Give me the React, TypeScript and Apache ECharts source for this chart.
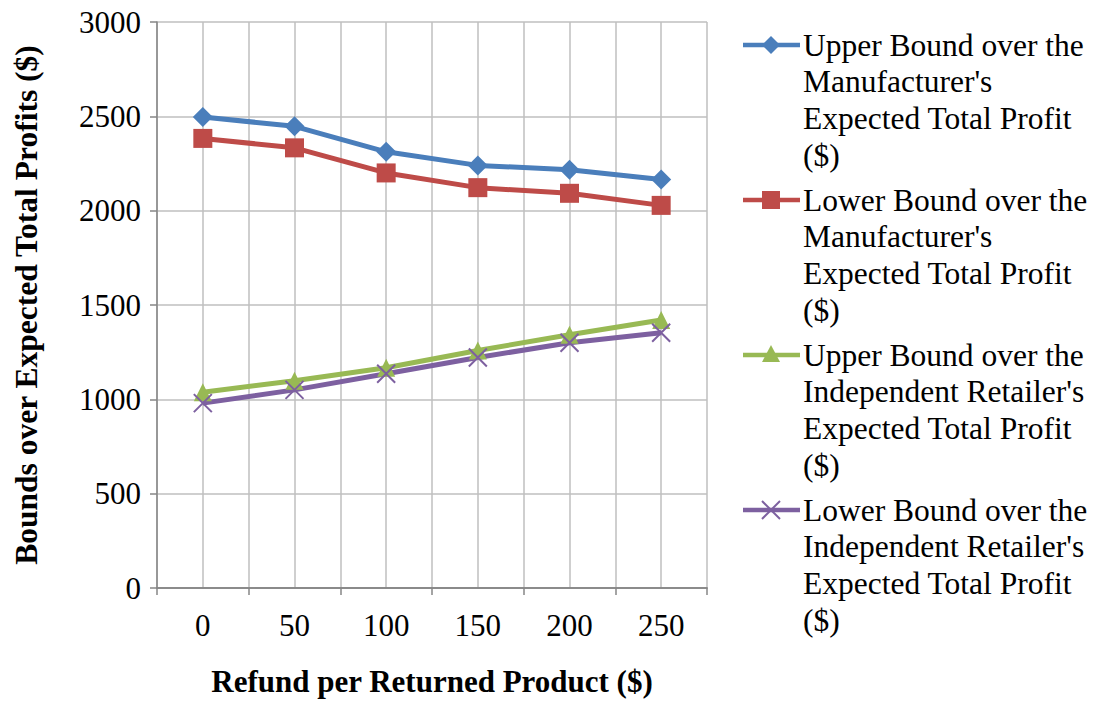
import React, { useEffect, useRef } from "react";
import * as echarts from "echarts";

const refunds = [0, 50, 100, 150, 200, 250];
const upperManufacturer = [2497, 2447, 2312, 2240, 2217, 2165];
const lowerManufacturer = [2383, 2333, 2200, 2122, 2092, 2028];
const upperRetailer = [1038, 1099, 1167, 1259, 1342, 1420];
const lowerRetailer = [980, 1050, 1136, 1222, 1300, 1353];
const seriesNames = [
  "Upper Bound over the Manufacturer's Expected Total Profit ($)",
  "Lower Bound over the Manufacturer's Expected Total Profit ($)",
  "Upper Bound over the Independent Retailer's Expected Total Profit ($)",
  "Lower Bound over the Independent Retailer's Expected Total Profit ($)",
];
const legendLines = [
  ["Upper Bound over the", "Manufacturer's", "Expected Total Profit", "($)"],
  ["Lower Bound over the", "Manufacturer's", "Expected Total Profit", "($)"],
  ["Upper Bound over the", "Independent Retailer's", "Expected Total Profit", "($)"],
  ["Lower Bound over the", "Independent Retailer's", "Expected Total Profit", "($)"],
];
const colors = ["#4a7ebb", "#be4b48", "#98b954", "#7d60a0"];

const FONT = "Liberation Serif";
const FS = 31;

export default function App() {
  const ref = useRef<HTMLDivElement>(null);
  useEffect(() => {
    const chart = echarts.init(ref.current!, null, { renderer: "svg" });
    const dataSets = [upperManufacturer, lowerManufacturer, upperRetailer, lowerRetailer];
    const symbols = ["diamond", "rect", "triangle", "path://M0,0L10,10M10,0L0,10"];
    const sizes = [20, 19, 18, 18];

    const legendGraphics: any[] = [];
    const legendTop = [45, 200, 355, 510];
    legendLines.forEach((lines, i) => {
      const cy = legendTop[i];
      const c = colors[i];
      legendGraphics.push({
        type: "line",
        shape: { x1: 743, y1: cy, x2: 800, y2: cy },
        style: { stroke: c, lineWidth: 4.5 },
      });
      const mx = 771;
      if (i === 0) {
        legendGraphics.push({
          type: "polygon",
          shape: { points: [[mx, cy - 9], [mx + 9, cy], [mx, cy + 9], [mx - 9, cy]] },
          style: { fill: c },
        });
      } else if (i === 1) {
        legendGraphics.push({
          type: "rect",
          shape: { x: mx - 9, y: cy - 9, width: 18, height: 18 },
          style: { fill: c },
        });
      } else if (i === 2) {
        legendGraphics.push({
          type: "polygon",
          shape: { points: [[mx, cy - 10], [mx + 9, cy + 7], [mx - 9, cy + 7]] },
          style: { fill: c },
        });
      } else {
        legendGraphics.push({
          type: "line",
          shape: { x1: mx - 9, y1: cy - 9, x2: mx + 9, y2: cy + 9 },
          style: { stroke: c, lineWidth: 2 },
        });
        legendGraphics.push({
          type: "line",
          shape: { x1: mx + 9, y1: cy - 9, x2: mx - 9, y2: cy + 9 },
          style: { stroke: c, lineWidth: 2 },
        });
      }
      lines.forEach((t, k) => {
        legendGraphics.push({
          type: "text",
          x: 803,
          y: cy + k * 36.8,
          style: {
            text: t,
            fill: "#000",
            font: `31.5px "${FONT}"`,
            verticalAlign: "middle",
            align: "left",
          },
        });
      });
    });

    chart.setOption({
      animation: false,
      backgroundColor: "#fff",
      grid: { left: 157, right: 392, top: 22, bottom: 105, containLabel: false },
      xAxis: [
        {
          type: "value",
          min: -25,
          max: 275,
          interval: 25,
          name: "Refund per Returned Product ($)",
          nameLocation: "middle",
          nameGap: 78,
          nameTextStyle: { fontFamily: FONT, fontSize: FS, fontWeight: "bold", color: "#000" },
          axisLine: { show: true, lineStyle: { color: "#868686", width: 1.5 } },
          axisTick: { show: false },
          axisLabel: {
            fontFamily: FONT,
            fontSize: FS,
            color: "#000",
            margin: 22,
            formatter: (v: number) => (refunds.indexOf(v) >= 0 ? String(v) : ""),
          },
          splitLine: { show: true, lineStyle: { color: "#bfbfbf", width: 1.5 } },
        },
        {
          type: "value",
          min: -25,
          max: 275,
          interval: 50,
          position: "bottom",
          axisLine: { show: true, lineStyle: { color: "#868686", width: 1.5 } },
          axisTick: { show: true, inside: false, length: 7, lineStyle: { color: "#868686", width: 1.5 } },
          axisLabel: { show: false },
          splitLine: { show: false },
        },
      ],
      yAxis: {
        type: "value",
        min: 0,
        max: 3000,
        interval: 500,
        name: "Bounds over Expected Total Profits ($)",
        nameLocation: "middle",
        nameGap: 115,
        nameTextStyle: { fontFamily: FONT, fontSize: 31.5, fontWeight: "bold", color: "#000" },
        axisLine: { show: true, onZero: false, lineStyle: { color: "#868686", width: 1.5 } },
        axisTick: { show: true, inside: false, length: 7, lineStyle: { color: "#868686", width: 1.5 } },
        axisLabel: {
          fontFamily: FONT,
          fontSize: FS,
          color: "#000",
          margin: 16,
          formatter: (v: number) => String(v),
        },
        splitLine: { show: true, lineStyle: { color: "#bfbfbf", width: 1.5 } },
      },
      series: dataSets.map((d, i) => ({
        name: seriesNames[i],
        type: "line",
        xAxisIndex: 0,
        data: d.map((v, k) => [refunds[k], v]),
        symbol: symbols[i],
        symbolSize: sizes[i],
        showAllSymbol: true,
        lineStyle: { color: colors[i], width: 5 },
        itemStyle:
          i === 3
            ? { color: colors[i], borderColor: colors[i], borderWidth: 2 }
            : { color: colors[i] },
      })),
      graphic: legendGraphics,
    });
    return () => chart.dispose();
  }, []);
  return <div ref={ref} style={{ width: 1099, height: 702, position: "absolute", left: 0, top: 0 }} />;
}
